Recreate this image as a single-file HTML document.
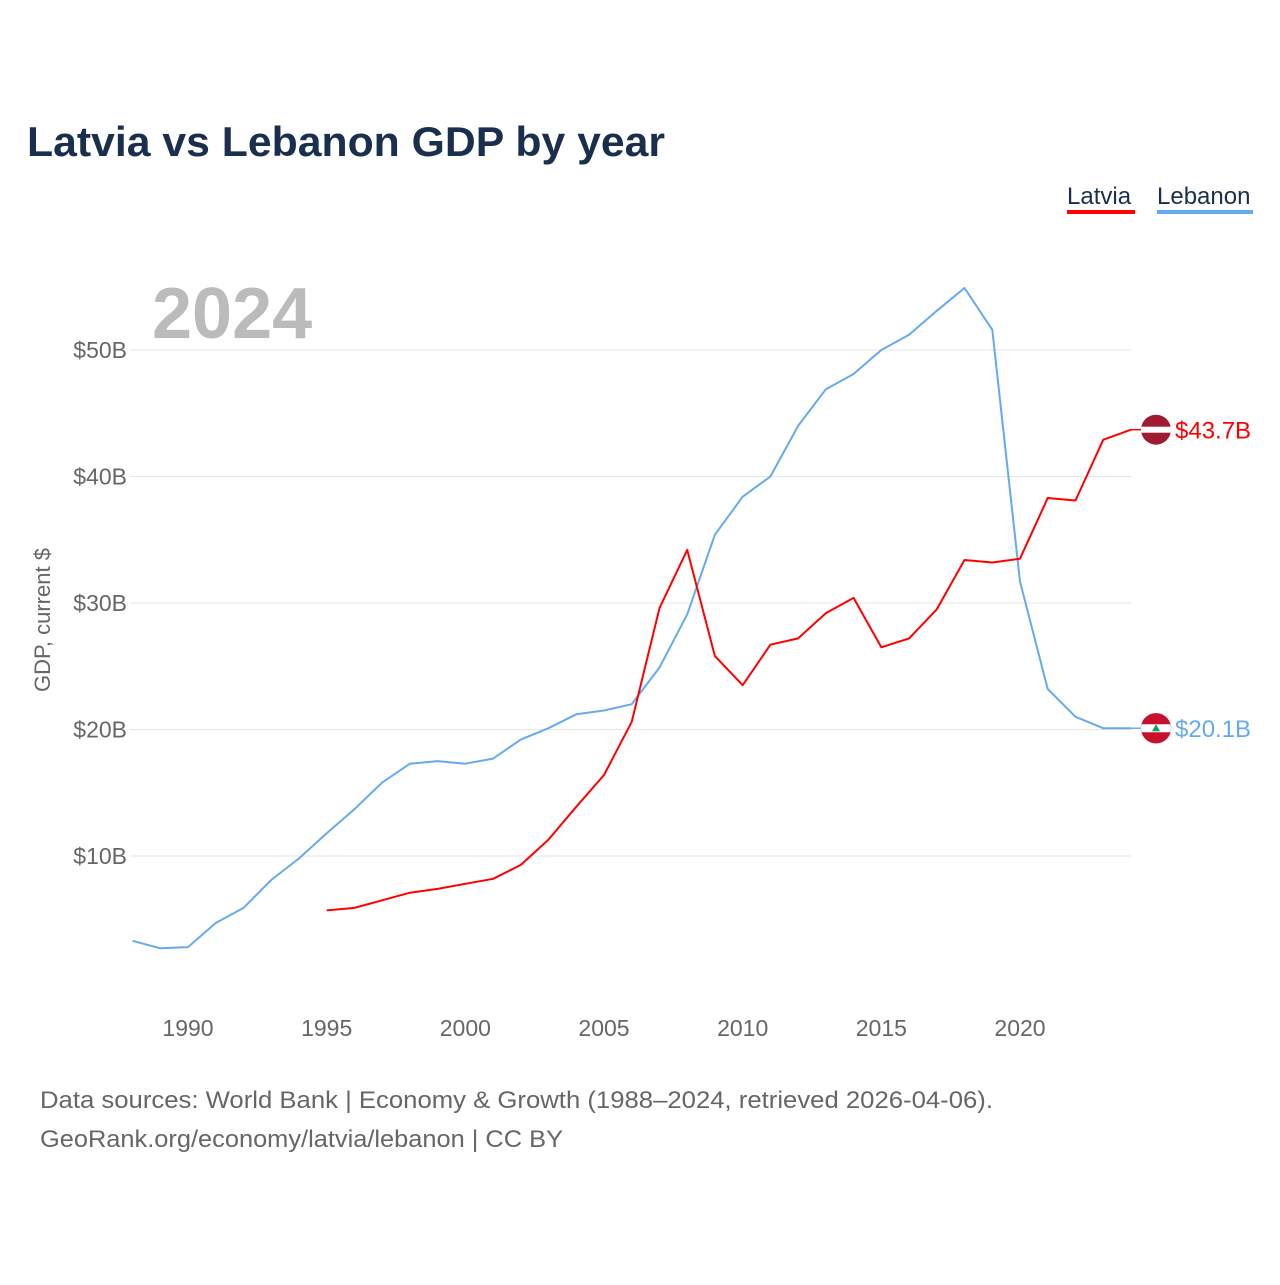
<!DOCTYPE html>
<html><head><meta charset="utf-8"><style>
body{margin:0;background:#fff;font-family:"Liberation Sans",sans-serif}
svg text{font-family:"Liberation Sans",sans-serif}
</style></head><body>
<svg id="c" width="1280" height="1280" xmlns="http://www.w3.org/2000/svg">
<text x="27" y="156" font-size="42" font-weight="bold" fill="#1a2e4d" textLength="638" lengthAdjust="spacingAndGlyphs">Latvia vs Lebanon GDP by year</text>
<g>
<text x="1067" y="204" font-size="24" fill="#1a2e4d">Latvia</text>
<rect x="1067" y="210" width="68" height="4" fill="#ff0000"/>
<text x="1157" y="204" font-size="24" fill="#1a2e4d">Lebanon</text>
<rect x="1157" y="210" width="96" height="4" fill="#66aaee"/>
</g>
<text x="152" y="338" font-size="72" font-weight="bold" fill="#bbbbbb">2024</text>
<text transform="translate(50,620) rotate(-90)" text-anchor="middle" font-size="22" fill="#666">GDP, current $</text>
<g id="grid"></g><g id="lines"></g>
<text x="40" y="1108" font-size="24" fill="#666" textLength="953" lengthAdjust="spacingAndGlyphs">Data sources: World Bank | Economy &amp; Growth (1988–2024, retrieved 2026-04-06).</text>
<text x="40" y="1147" font-size="24" fill="#666" textLength="523" lengthAdjust="spacingAndGlyphs">GeoRank.org/economy/latvia/lebanon | CC BY</text>
</svg>
<script>
const yTicks=[10,20,30,40,50];
const xTicks=[1990,1995,2000,2005,2010,2015,2020];
const lebanonYears=[1988,1989,1990,1991,1992,1993,1994,1995,1996,1997,1998,1999,2000,2001,2002,2003,2004,2005,2006,2007,2008,2009,2010,2011,2012,2013,2014,2015,2016,2017,2018,2019,2020,2021,2022,2023,2024];
const lebanonValues=[3.3,2.7,2.8,4.7,5.9,8.1,9.8,11.8,13.7,15.8,17.3,17.5,17.3,17.7,19.2,20.1,21.2,21.5,22.0,24.9,29.1,35.4,38.4,40.0,44.0,46.9,48.1,50.0,51.2,53.1,54.9,51.6,31.7,23.2,21.0,20.1,20.1];
const latviaYears=[1995,1996,1997,1998,1999,2000,2001,2002,2003,2004,2005,2006,2007,2008,2009,2010,2011,2012,2013,2014,2015,2016,2017,2018,2019,2020,2021,2022,2023,2024];
const latviaValues=[5.7,5.9,6.5,7.1,7.4,7.8,8.2,9.3,11.3,13.9,16.4,20.6,29.6,34.2,25.8,23.5,26.7,27.2,29.2,30.4,26.5,27.2,29.5,33.4,33.2,33.5,38.3,38.1,42.9,43.7];
const NS="http://www.w3.org/2000/svg";
const xs=y=>188+(y-1990)*(1020-188)/30;
const ys=v=>982.5-v*12.65;
function mk(t,a,p){const e=document.createElementNS(NS,t);for(const k in a)e.setAttribute(k,a[k]);p.appendChild(e);return e;}
const g=document.getElementById('grid');
yTicks.forEach(v=>{
 const l=mk('line',{x1:130,x2:1131,y1:ys(v),y2:ys(v),stroke:'#e6e6e6','stroke-width':1},g);
 
 
 const t=mk('text',{x:127,y:ys(v)+8,'text-anchor':'end','font-size':23,fill:'#666'},g);
 t.textContent='$'+v+'B';
 
 
});
xTicks.forEach(y=>{
 const t=mk('text',{x:xs(y),y:1036,'text-anchor':'middle','font-size':23,fill:'#666'},g);
 t.textContent=y;
 
 
});
const L=document.getElementById('lines');
function series(yrs,vals,col,name){
 const d=yrs.map((y,i)=>(i?'L':'M')+xs(y).toFixed(1)+','+ys(vals[i]).toFixed(1)).join('');
 const p=mk('path',{d:d,fill:'none',stroke:col,'stroke-width':2,'stroke-linejoin':'round'},L);
 
 
 const lv=vals[vals.length-1],ly=ys(lv);
 const k=mk('line',{x1:xs(yrs[yrs.length-1]),x2:1146,y1:ly,y2:ly,stroke:col,'stroke-width':1.5},L);
 
 
 const f=mk('g',{},L);
 
 
 if(name==='latvia'){
  mk('circle',{cx:1156,cy:ly,r:15,fill:'#9e1b32'},f);
  mk('rect',{x:1141,y:ly-3,width:30,height:6,fill:'#fff'},f);
 }else{
  mk('circle',{cx:1156,cy:ly,r:15,fill:'#fff',stroke:'#ddd'},f);
  mk('path',{d:`M1141.5,${ly-4}A15,15 0 0 1 1170.5,${ly-4}Z`,fill:'#c8102e'},f);
  mk('path',{d:`M1141.5,${ly+4}A15,15 0 0 0 1170.5,${ly+4}Z`,fill:'#c8102e'},f);
  mk('path',{d:`M1156,${ly-4}L1160,${ly+3}L1152,${ly+3}Z`,fill:'#00a651'},f);
 }
 const t=mk('text',{x:1175,y:ly+9,'font-size':24,fill:col},L);
 t.textContent='$'+lv.toFixed(1)+'B';
 
 
}
series(lebanonYears,lebanonValues,'#66aaee','lebanon');
series(latviaYears,latviaValues,'#ff0000','latvia');
</script>
</body></html>
